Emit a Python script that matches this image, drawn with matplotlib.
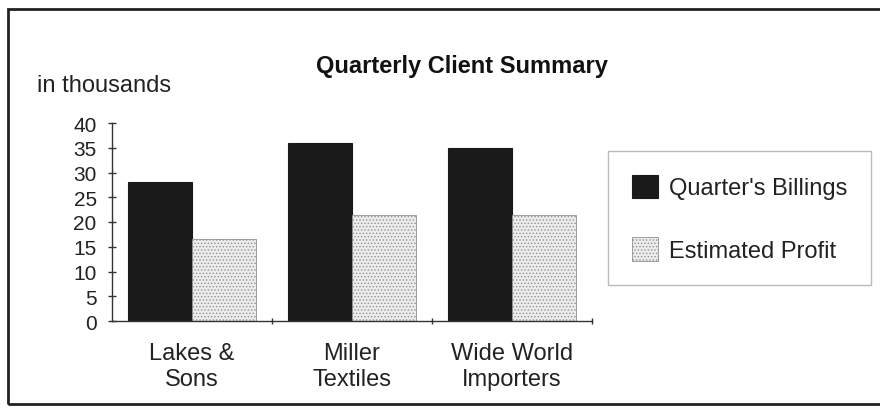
import matplotlib
matplotlib.use("Agg")
import matplotlib.pyplot as plt
import matplotlib.patches as mpatches
import numpy as np

plt.rcParams['font.family'] = ['Liberation Sans', 'DejaVu Sans']
plt.rcParams['hatch.color'] = '#8a8a8a'
plt.rcParams['hatch.linewidth'] = 0.6

categories = ["Lakes &\nSons", "Miller\nTextiles", "Wide World\nImporters"]
billings = [28, 36, 35]
profit = [16.5, 21.5, 21.5]
series_names = ["Quarter's Billings", "Estimated Profit"]
yticks = [0, 5, 10, 15, 20, 25, 30, 35, 40]

W, H = 880, 410
fig = plt.figure(figsize=(W/100, H/100), dpi=100)
fig.patch.set_facecolor('white')

# outer frame
fig.add_artist(mpatches.Rectangle((8/W, 1-405/H), (W+5-8)/W, (405-10)/H,
                                  transform=fig.transFigure, fill=False,
                                  edgecolor='#222222', linewidth=2.0))

ax = fig.add_axes([112/W, 1-322/H, (592-112)/W, (322-124)/H])
x = np.arange(len(categories))
bw = 0.4
b1 = ax.bar(x - bw/2, billings, width=bw, color='#1a1a1a', edgecolor='#1a1a1a', linewidth=0.8)
b2 = ax.bar(x + bw/2, profit, width=bw, color='#ececec', edgecolor='#909090',
            linewidth=0.6, hatch='.....')

ax.set_xlim(-0.5, len(categories) - 0.5)
ax.set_ylim(0, 40)
ax.set_yticks(yticks)
ax.set_yticklabels([str(v) for v in yticks], fontsize=15, color='#222222')
ax.set_xticks([0.5, 1.5, 2.5][:len(categories)])
ax.set_xticks(x, minor=True)
ax.set_xticklabels([])
ax.set_xticklabels(categories, minor=True, fontsize=17, color='#222222', linespacing=1.25)
ax.tick_params(axis='x', which='major', length=5, direction='inout', width=1, color='#333333')
ax.tick_params(axis='x', which='minor', length=0, pad=15)
ax.tick_params(axis='y', length=6, direction='inout', width=1, color='#333333', pad=8)
for s in ['top', 'right']:
    ax.spines[s].set_visible(False)
for s in ['left', 'bottom']:
    ax.spines[s].set_color('#333333')
    ax.spines[s].set_linewidth(1.0)

fig.text(462/W, 1-67/H, "Quarterly Client Summary", ha='center', va='center',
         fontsize=17, fontweight='bold', color='#111111')
fig.text(37/W, 1-86/H, "in thousands", ha='left', va='center', fontsize=17, color='#222222')

leg = fig.legend([b1, b2], series_names, loc='upper left',
                 bbox_to_anchor=(608/W, 1-152/H), fontsize=17,
                 frameon=True, fancybox=False, edgecolor='#aaaaaa',
                 handlelength=1.1, handleheight=1.15, labelspacing=1.6,
                 borderpad=1.0, handletextpad=0.5, borderaxespad=0)
leg.get_frame().set_linewidth(1.0)
for t in leg.get_texts():
    t.set_color('#222222')

fig.savefig("out.png", dpi=100, facecolor='white')
